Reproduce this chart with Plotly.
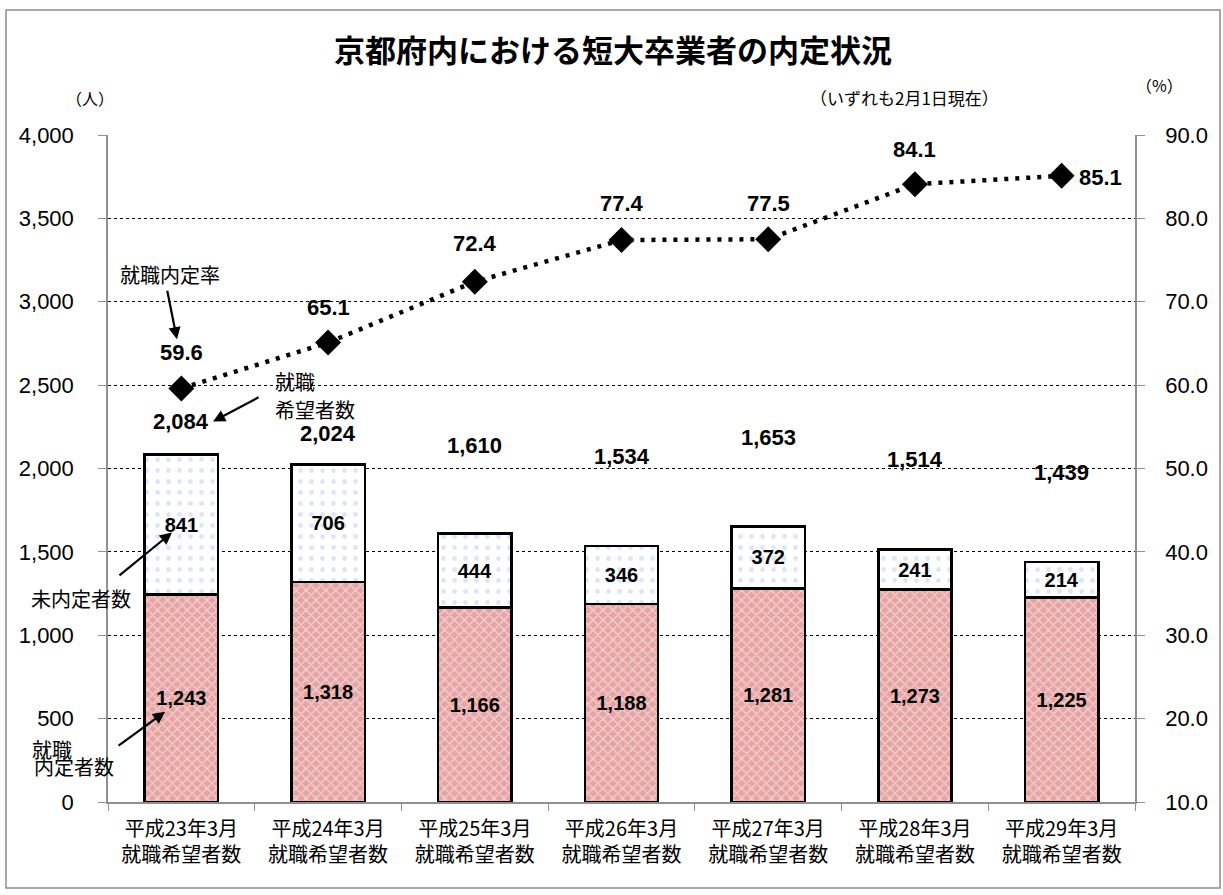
import plotly.graph_objects as go

categories = ["平成23年3月<br>就職希望者数", "平成24年3月<br>就職希望者数", "平成25年3月<br>就職希望者数",
              "平成26年3月<br>就職希望者数", "平成27年3月<br>就職希望者数", "平成28年3月<br>就職希望者数",
              "平成29年3月<br>就職希望者数"]
naitei = [1243, 1318, 1166, 1188, 1281, 1273, 1225]
minaitei = [841, 706, 444, 346, 372, 241, 214]
kibou = [2084, 2024, 1610, 1534, 1653, 1514, 1439]
rate = [59.6, 65.1, 72.4, 77.4, 77.5, 84.1, 85.1]
total_label_shift = [33, 31, 88, 90, 89, 90, 90]
rate_label_shift = [(0, 36), (0, 35), (0, 38), (0, 37), (0, 36), (0, 35), (39, -2)]

xs = list(range(len(categories)))
FONT = "Noto Sans CJK JP"
NUMFONT = "Liberation Sans"

fig = go.Figure()
fig.add_trace(go.Bar(
    x=xs, y=naitei, width=0.5,
    marker=dict(color="#E6A3A3", line=dict(color="black", width=2.5),
                pattern=dict(shape="x", fgcolor="white", bgcolor="#E6A3A3", size=7, solidity=0.35)),
    texttemplate="<b>%{y:,}</b>", textposition="inside", insidetextanchor="middle",
    textfont=dict(size=20, color="black", family=NUMFONT), textangle=0,
    name="就職内定者数", showlegend=False))
fig.add_trace(go.Bar(
    x=xs, y=minaitei, width=0.5,
    marker=dict(color="white", line=dict(color="black", width=2.5),
                pattern=dict(shape=".", fgcolor="#B8CCEB", bgcolor="white", size=11, solidity=0.15)),
    texttemplate="<b>%{y:,}</b>", textposition="inside", insidetextanchor="middle",
    textfont=dict(size=20, color="black", family=NUMFONT), textangle=0,
    name="未内定者数", showlegend=False))
fig.add_trace(go.Scatter(
    x=xs, y=rate, yaxis="y2", mode="lines+markers",
    line=dict(color="black", width=4.5, dash="4px,7px"),
    marker=dict(symbol="diamond", size=20, color="black"),
    name="就職内定率", showlegend=False, cliponaxis=False))

ann = []
for i, (v, s) in enumerate(zip(kibou, total_label_shift)):
    ann.append(dict(x=i, y=v, text=f"<b>{v:,}</b>", showarrow=False, yshift=s,
                    font=dict(size=22, family=NUMFONT, color="black")))
for i, (v, (dx, dy)) in enumerate(zip(rate, rate_label_shift)):
    ann.append(dict(x=i, y=v, yref="y2", text=f"<b>{v:.1f}</b>", showarrow=False,
                    xshift=dx, yshift=dy, font=dict(size=22, family=NUMFONT, color="black")))

def txt(x, y, t, anchor="center", ref="data"):
    d = dict(x=x, y=y, text=t, showarrow=False, xanchor=anchor, yanchor="middle",
             font=dict(size=20, family=FONT, color="black"))
    if ref == "paper":
        d.update(xref="paper", yref="paper")
    ann.append(d)

txt(-0.077, 3165, "就職内定率")
txt(0.625, 2523, "就職", "left")
txt(0.625, 2354, "希望者数", "left")
txt(-0.0263, 0.3058, "未内定者数", ref="paper")
txt(-0.0759, 0.078, "就職", "left", ref="paper")
txt(-0.074, 0.0525, "内定者数", "left", ref="paper")

def arrow(x, y, ax, ay):
    ann.append(dict(x=x, y=y, ax=ax, ay=ay, text="", showarrow=True,
                    arrowhead=2, arrowsize=1.1, arrowwidth=2.2, arrowcolor="black"))

arrow(-0.030, 2775, -10, -50)
arrow(0.216, 2282, 47, -25)
arrow(-0.064, 1616, -54, 44)
arrow(-0.111, 541, -48, 35)

def head(x, y, t, size, bold=False):
    ann.append(dict(xref="paper", yref="paper", x=x, y=y, yanchor="middle",
                    text=(f"<b>{t}</b>" if bold else t), showarrow=False,
                    font=dict(size=size, family=FONT, color="black")))

head(0.4917, 1.1304, "京都府内における短大卒業者の内定状況", 31, True)
head(-0.0428, 1.0555, "（人）", 16)
head(1.0487, 1.075, "（%）", 16)
head(0.8695, 1.0555, "（いずれも2月1日現在）", 17)

fig.update_layout(
    width=1223, height=895,
    margin=dict(l=108, r=88, t=135, b=93),
    plot_bgcolor="white", paper_bgcolor="white",
    barmode="stack",
    annotations=ann,
    font=dict(family=FONT, color="black"),
    xaxis=dict(range=[-0.5, 6.5], tickvals=xs, ticktext=categories, ticks="",
               tickfont=dict(size=20, family=FONT, color="black"), ticklabelstandoff=8,
               showline=True, linecolor="#909090", linewidth=1.5, showgrid=False, zeroline=False,
               minor=dict(ticks="outside", tick0=-0.5, dtick=1, ticklen=7, tickcolor="#909090", showgrid=False)),
    yaxis=dict(range=[0, 4000], dtick=500, tickformat=",", showgrid=True, gridcolor="black",
               griddash="dot", gridwidth=1, showline=True, linecolor="#909090", linewidth=1.5,
               ticks="outside", ticklen=8, tickcolor="#909090", zeroline=False, ticklabelstandoff=20,
               tickfont=dict(size=22, family=NUMFONT, color="black")),
    yaxis2=dict(range=[10, 90], dtick=10, tickformat=".1f", overlaying="y", side="right",
                showgrid=False, showline=True, linecolor="#909090", linewidth=1.5,
                ticks="outside", ticklen=8, tickcolor="#909090", zeroline=False, ticklabelstandoff=16,
                tickfont=dict(size=22, family=NUMFONT, color="black")),
    shapes=[dict(type="rect", xref="paper", yref="paper", x0=-0.0993, x1=1.0828, y0=-0.1289, y1=1.1874,
                 line=dict(color="#8c8c8c", width=1.5), fillcolor="rgba(0,0,0,0)", layer="below")],
)
fig.write_html("out.html", config={"displayModeBar": False},
               post_script="document.body.style.margin='0px';")
